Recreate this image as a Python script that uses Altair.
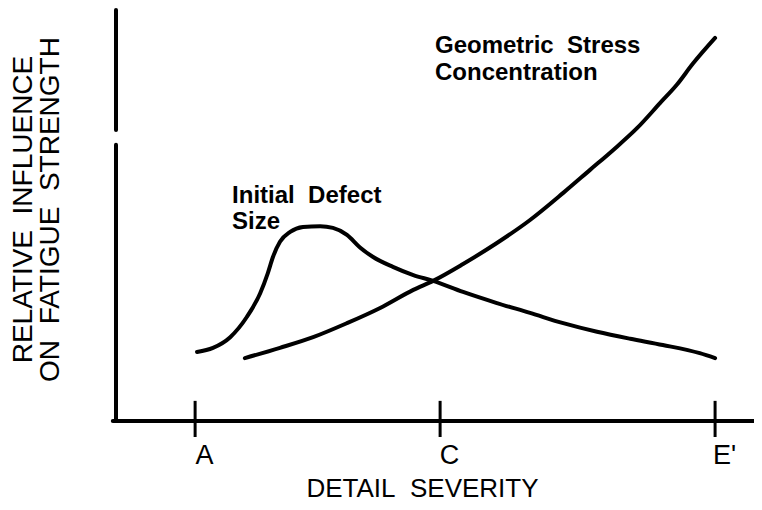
import altair as alt
import pandas as pd

# ---- data (x: detail severity units 0-100, y: relative influence units 0-100) ----
defect_x = [12.7, 15.2, 17.9, 20.5, 22.6, 23.8, 24.6, 25.7, 27.3, 29.3, 32.0, 34.0, 36.2,
            38.2, 40.3, 43.4, 46.6, 49.7, 54.4, 59.7, 64.9, 70.1, 75.4, 80.6, 85.7, 91.5, 93.9]
defect_y = [16.8, 17.8, 20.4, 25.3, 31.1, 36.0, 39.9, 43.6, 46.0, 47.2, 47.4, 47.0, 45.3,
            42.3, 39.9, 37.5, 35.5, 34.1, 31.4, 28.7, 26.3, 23.8, 21.7, 20.0, 18.5, 16.5, 15.3]

geo_x = [20.2, 25.7, 30.9, 36.2, 41.4, 46.6, 49.7, 54.4, 59.7, 64.9, 70.1, 74.3, 77.9,
         81.7, 85.3, 87.9, 90.4, 93.9]
geo_y = [15.3, 17.8, 20.4, 23.8, 27.5, 31.9, 34.1, 38.2, 43.3, 48.9, 55.5, 61.1, 65.9,
         71.3, 77.4, 81.8, 86.9, 93.2]

tick_pos = [12.4, 50.8, 93.9]
tick_labels = ["A", "C", "E'"]

# axis frame pieces (y-axis has a break)
frame_x = [0, 0, -0.5]
frame_x2 = [0, 0, 100]
frame_y = [0, 70.8, 0]
frame_y2 = [67.2, 100, 0]

tick_lo = -3.9
tick_hi = 4.9

ann_text = ["Geometric\u00a0\u00a0Stress", "Concentration", "Initial\u00a0\u00a0Defect", "Size"]
ann_x = [50.0, 50.0, 18.2, 18.2]
ann_y = [89.5, 83.0, 53.0, 46.7]

FONT = "Liberation Sans"

curves = pd.DataFrame(
    {"x": defect_x + geo_x,
     "y": defect_y + geo_y,
     "curve": ["Initial Defect Size"] * len(defect_x) + ["Geometric Stress Concentration"] * len(geo_x),
     "order": list(range(len(defect_x))) + list(range(len(geo_x)))}
)
frame = pd.DataFrame({"x": frame_x, "x2": frame_x2, "y": frame_y, "y2": frame_y2})
ticks = pd.DataFrame({"x": tick_pos, "lab": tick_labels, "lo": [tick_lo] * 3, "hi": [tick_hi] * 3})
ann = pd.DataFrame({"t": ann_text, "x": ann_x, "y": ann_y})

label_expr = "datum.value < 30 ? 'A' : (datum.value < 70 ? 'C' : \"E'\")"

xscale = alt.Scale(domain=[0, 100], nice=False, zero=False)
yscale = alt.Scale(domain=[0, 100], nice=False, zero=False)

xaxis = alt.Axis(
    values=tick_pos, labelExpr=label_expr, domain=False, ticks=False, grid=False,
    labelFont=FONT, labelFontSize=27, labelColor="black", labelPadding=42,
    labelBaseline="alphabetic", labelOffset=9,
    title="DETAIL\u00a0\u00a0SEVERITY", titleFont=FONT, titleFontSize=26,
    titleFontWeight="normal", titleColor="black", titleX=306, titleY=75,
    titleBaseline="alphabetic", titleAlign="center",
)
yaxis = alt.Axis(
    domain=False, ticks=False, labels=False, grid=False,
    title=["RELATIVE\u00a0\u00a0INFLUENCE", "ON\u00a0\u00a0FATIGUE\u00a0\u00a0STRENGTH"],
    titleFont=FONT, titleFontSize=28, titleFontWeight="normal", titleColor="black",
    titleLineHeight=27, titlePadding=52, titleY=199,
)

base_curves = alt.Chart(curves).mark_line(
    color="black", strokeWidth=4, interpolate="monotone", strokeCap="round"
).encode(
    x=alt.X("x:Q", scale=xscale, axis=xaxis),
    y=alt.Y("y:Q", scale=yscale, axis=yaxis),
    detail="curve:N",
    order="order:Q",
)

frame_rules = alt.Chart(frame).mark_rule(color="black", strokeWidth=4, strokeCap="round").encode(
    x=alt.X("x:Q", scale=xscale), x2="x2:Q",
    y=alt.Y("y:Q", scale=yscale), y2="y2:Q",
)

tick_rules = alt.Chart(ticks).mark_rule(color="black", strokeWidth=3).encode(
    x=alt.X("x:Q", scale=xscale),
    y=alt.Y("lo:Q", scale=yscale), y2="hi:Q",
)

ann_text_marks = alt.Chart(ann).mark_text(
    font=FONT, fontSize=24, fontWeight="bold", align="left", baseline="alphabetic", color="black"
).encode(
    x=alt.X("x:Q", scale=xscale),
    y=alt.Y("y:Q", scale=yscale),
    text="t:N",
)

chart = alt.layer(base_curves, frame_rules, tick_rules, ann_text_marks).properties(
    width=638, height=411, autosize="none",
    padding={"left": 108, "top": 2, "right": 0, "bottom": 81},
    background="white",
).configure_view(stroke=None)

chart.save("out.html", embed_options={"renderer": "svg", "actions": False})
